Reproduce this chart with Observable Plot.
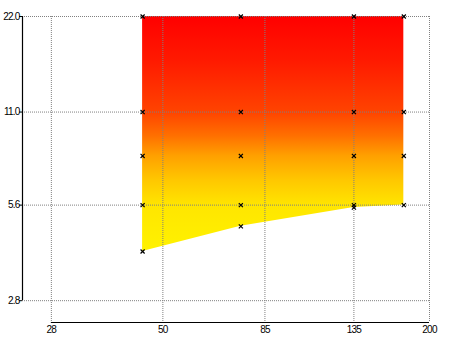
<!DOCTYPE html>
<html><head><meta charset="utf-8">
<script src="https://cdn.jsdelivr.net/npm/d3@7"></script>
<script src="https://cdn.jsdelivr.net/npm/@observablehq/plot@0.6"></script>
<style>
body{margin:0;background:#fff}
#chart svg text{letter-spacing:-0.8px}
</style>
</head><body><div id="chart"></div>
<script>
// Data
const focal = [45, 75, 135, 175];
const minAperture = [4.0, 4.8, 5.5, 5.6];
const maxAperture = [22, 22, 22, 22];
const stopsAt45 = [22, 11, 8, 5.6, 4.0];
const stopsAt75 = [22, 11, 8, 5.6, 4.8];
const stopsAt135 = [22, 11, 8, 5.6, 5.5];
const stopsAt175 = [22, 11, 8, 5.6];
const xTicks = [28, 50, 85, 135, 200];
const xTickLabels = ["28", "50", "85", "135", "200"];
const yTicks = [2.8, 5.6, 11, 22];
const yTickLabels = ["2.8", "5.6", "11.0", "22.0"];
const xDomain = [24.1, 200];
const yDomain = [2.39, 22];

const areaData = focal.map((f, i) => ({f, lo: minAperture[i], hi: maxAperture[i]}));
const stopLists = [stopsAt45, stopsAt75, stopsAt135, stopsAt175];
const points = stopLists.flatMap((s, i) => s.map(a => ({f: focal[i], a})));
const xLab = xTicks.map((v, i) => ({v, t: xTickLabels[i]}));
const yLab = yTicks.map((v, i) => ({v, t: yTickLabels[i]}));

const grid = {stroke: "#808080", strokeOpacity: 1, strokeWidth: 1, strokeDasharray: "1,1"};

const svg = Plot.plot({
  width: 450, height: 337,
  marginTop: 16, marginRight: 21, marginBottom: 15, marginLeft: 22,
  style: {fontFamily: "Liberation Sans, Arial, sans-serif", fontSize: "10px", color: "#000", background: "#fff"},
  x: {type: "log", domain: xDomain, axis: null},
  y: {type: "log", domain: yDomain, axis: null},
  marks: [
    Plot.areaY(areaData, {x: "f", y1: "lo", y2: "hi", fill: "url(#apGrad)"}),
    Plot.gridX(xTicks, grid),
    Plot.gridY(yTicks, grid),
    Plot.ruleX([xDomain[0]], {y1: yTicks[0], y2: yTicks[yTicks.length - 1], stroke: "#000", strokeWidth: 1.2}),
    Plot.ruleY([yDomain[0]], {x1: xTicks[0], x2: xTicks[xTicks.length - 1], stroke: "#000", strokeWidth: 1.2}),
    Plot.ruleY(yTicks, {y: d => d, x1: xDomain[0], x2: xDomain[0], insetLeft: -3, stroke: "#000"}),
    Plot.text(yLab, {x: xDomain[0], y: "v", text: "t", textAnchor: "end", dx: -3, fill: "#000"}),
    Plot.text(xLab, {x: "v", y: yDomain[0], text: "t", dy: 7, fill: "#000"}),
    Plot.dot(points, {x: "f", y: "a", symbol: "times", r: 2, stroke: "#000", strokeWidth: 1.2})
  ]
});

const defs = d3.select(svg).insert("defs", ":first-child");
const g = defs.append("linearGradient").attr("id", "apGrad")
  .attr("x1", 0).attr("y1", 0).attr("x2", 0).attr("y2", 1);
[[0, "#ff0000"], [0.19, "#ff1a00"], [0.41, "#ff4400"], [0.51, "#ff7000"],
 [0.594, "#ffa000"], [0.70, "#ffc800"], [0.808, "#ffe600"], [1, "#fff200"]]
  .forEach(([o, c]) => g.append("stop").attr("offset", o).attr("stop-color", c));

document.getElementById("chart").appendChild(svg);
</script>
</body></html>
